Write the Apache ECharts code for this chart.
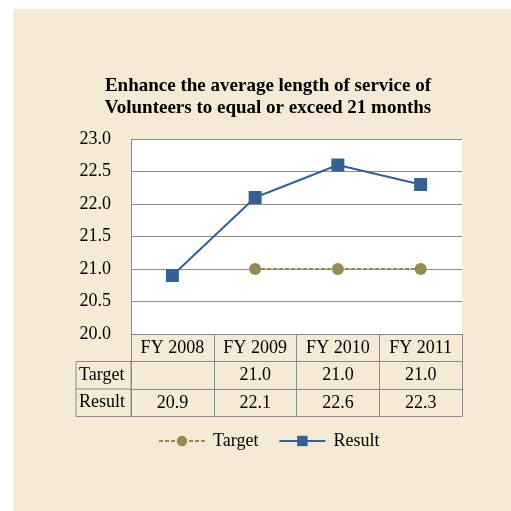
<!DOCTYPE html>
<html>
<head>
<meta charset="utf-8">
<script src="https://cdn.jsdelivr.net/npm/echarts@6/dist/echarts.min.js"></script>
<style>
  html, body { margin: 0; padding: 0; background: #fff; }
  #chart { width: 511px; height: 511px; }
</style>
</head>
<body>
<div id="chart"></div>
<script>
var categories = ['FY 2008', 'FY 2009', 'FY 2010', 'FY 2011'];
var targetValues = [null, 21.0, 21.0, 21.0];
var resultValues = [20.9, 22.1, 22.6, 22.3];
var yTicks = [20.0, 20.5, 21.0, 21.5, 22.0, 22.5, 23.0];

var serif = 'Liberation Serif';
var gray = '#8a8a8a';
var beige = '#f5ead6';

// plot box (pixels)
var plotLeft = 131, plotRight = 462, plotTop = 139, plotBottom = 334;
var rowH = 27.5;
var tableLeft = 76;

function cellText(v) {
    return v == null ? '' : v.toFixed(1);
}

function rowAxis(data, offset) {
    return {
        type: 'category',
        data: data,
        position: 'bottom',
        offset: offset,
        axisLine: { show: true, lineStyle: { color: gray, width: 1 } },
        axisTick: { show: true, length: rowH, lineStyle: { color: gray, width: 1 } },
        axisLabel: { color: '#000', fontFamily: serif, fontSize: 18, margin: 5, interval: 0 },
        splitLine: { show: false }
    };
}

var myChart = echarts.init(document.getElementById('chart'));
myChart.setOption({
    animation: false,
    textStyle: { fontFamily: serif },
    title: {
        text: 'Enhance the average length of service of\nVolunteers to equal or exceed 21 months',
        left: 263,
        top: 70,
        textAlign: 'center',
        textStyle: { fontFamily: serif, fontSize: 19, fontWeight: 'bold', color: '#000', lineHeight: 22 }
    },
    legend: {
        bottom: 56,
        left: 153,
        itemWidth: 46,
        itemHeight: 13,
        itemGap: 20,
        textStyle: { fontFamily: serif, fontSize: 18, color: '#000', padding: [0, 0, 0, 3] },
        data: ['Target', 'Result']
    },
    grid: {
        left: plotLeft,
        right: 511 - plotRight,
        top: plotTop,
        bottom: 511 - plotBottom,
        show: true,
        backgroundColor: '#fff',
        borderWidth: 0
    },
    xAxis: [
        rowAxis(categories, 0),
        rowAxis(targetValues.map(cellText), rowH),
        rowAxis(resultValues.map(cellText), rowH * 2)
    ],
    yAxis: {
        type: 'value',
        min: yTicks[0],
        max: yTicks[yTicks.length - 1],
        interval: 0.5,
        axisLine: { show: true, lineStyle: { color: gray } },
        axisTick: { show: false },
        axisLabel: {
            color: '#000', fontFamily: serif, fontSize: 18, margin: 20,
            formatter: function (v) { return v.toFixed(1); }
        },
        splitLine: { lineStyle: { color: gray, width: 1 } }
    },
    graphic: [
        { type: 'rect', z: -10, shape: { x: 13, y: 9, width: 498, height: 502 }, style: { fill: beige } },
        { type: 'rect', shape: { x: tableLeft, y: plotBottom + rowH, width: plotLeft - tableLeft, height: rowH * 2 },
          style: { fill: 'none', stroke: gray, lineWidth: 1 } },
        { type: 'line', shape: { x1: tableLeft, y1: plotBottom + rowH * 2, x2: plotLeft, y2: plotBottom + rowH * 2 },
          style: { stroke: gray, lineWidth: 1 } },
        { type: 'line', shape: { x1: plotLeft, y1: plotBottom + rowH * 3, x2: plotRight, y2: plotBottom + rowH * 3 },
          style: { stroke: gray, lineWidth: 1 } },
        { type: 'text', x: tableLeft + 3, y: plotBottom + rowH * 1.5,
          style: { text: 'Target', fontFamily: serif, fontSize: 18, fill: '#000', verticalAlign: 'middle' } },
        { type: 'text', x: tableLeft + 3, y: plotBottom + rowH * 2.5,
          style: { text: 'Result', fontFamily: serif, fontSize: 18, fill: '#000', verticalAlign: 'middle' } }
    ],
    series: [
        {
            name: 'Target',
            type: 'line',
            data: targetValues,
            symbol: 'circle',
            symbolSize: 12,
            color: '#948a54',
            lineStyle: { color: '#948a54', width: 2, type: [4, 2] },
            itemStyle: { color: '#948a54' }
        },
        {
            name: 'Result',
            type: 'line',
            data: resultValues,
            symbol: 'rect',
            symbolSize: 13,
            color: '#376092',
            lineStyle: { color: '#376092', width: 2 },
            itemStyle: { color: '#376092' }
        }
    ]
});
</script>
</body>
</html>
